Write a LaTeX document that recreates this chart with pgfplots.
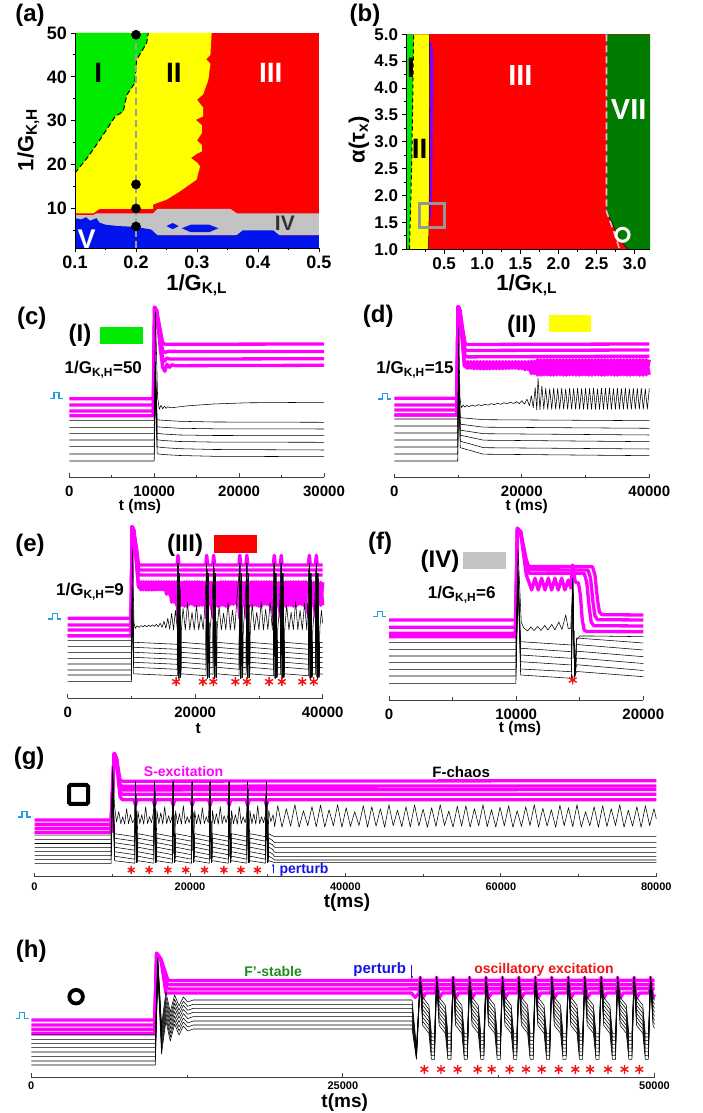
\documentclass[border=0pt]{standalone}
\usepackage{fontspec}
\setmainfont{Liberation Sans}
\usepackage{pgfplots}
\pgfplotsset{compat=1.18}
\usepackage{pgfplotstable}
\usetikzlibrary{arrows.meta}

\definecolor{mag}{RGB}{255,0,255}
\definecolor{cRed}{RGB}{255,0,0}
\definecolor{cYel}{RGB}{255,255,0}
\definecolor{cGrn}{RGB}{0,235,0}
\definecolor{cGry}{RGB}{195,195,195}
\definecolor{cBlu}{RGB}{0,20,235}
\definecolor{cDkG}{RGB}{0,125,0}
\definecolor{cPur}{RGB}{125,0,255}
\definecolor{cPulse}{RGB}{30,160,230}
\definecolor{cPert}{RGB}{20,20,230}
\definecolor{cStar}{RGB}{240,20,20}
\definecolor{cFst}{RGB}{30,140,30}
\definecolor{cBox}{RGB}{150,150,150}

\newcommand{\fs}[1]{\fontsize{#1}{#1}\selectfont\bfseries}
\newcommand{\pulse}[2]{\draw[cPulse, line width=1.3pt] (#1,#2) -- ++(4,0) -- ++(0,5.5) -- ++(5,0) -- ++(0,-5.5) -- ++(4,0);}

\pgfplotsset{
  heat/.style={scale only axis, anchor=south west, width=244pt, height=215pt,
    axis x line*=bottom, axis y line*=left,
    axis line style={-, line width=0.9pt, black},
    tick align=outside, major tick length=4.5pt, minor tick length=2.5pt,
    tick style={black, line width=0.9pt}, minor tick style={black, line width=0.9pt},
    tick label style={font=\fs{18}},
    /pgf/number format/assume math mode=true,
    axis on top},
  trace/.style={scale only axis, anchor=south west, ymin=0, clip=false,
    axis y line=none, axis x line*=bottom,
    axis line style={-, line width=0.9pt, black!75},
    tick align=inside, major tick length=4pt, minor tick length=2.5pt,
    tick style={black!75, line width=0.9pt}, minor tick style={black!75, line width=0.9pt},
    scaled x ticks=false,
    xticklabel style={/pgf/number format/.cd, fixed, 1000 sep={}},
    /pgf/number format/assume math mode=true,
    xticklabel shift=5pt,
    tick label style={font=\fs{15}}},
  magline/.style={color=mag, line width=3.3pt, line join=round},
  blk/.style={black, line width=0.55pt, line join=round},
  star/.style={only marks, mark=asterisk, color=cStar, mark size=4.5pt, line width=1.4pt},
}

% ---------- panel (c): lower traces ----------
\pgfplotstableread{
t b2 b3 b4 b5 b6 b7
0 50 44 37.3 30.6 23.3 16.3
10000 50 44 37.3 30.6 23.3 16.3
10150 115 110 105 100 95 90
10350 57.5 50.5 44 37.5 30.5 23.5
11000 57 50 43.3 36.8 29.7 22.8
13000 56 49 42.3 35.8 28.6 21.8
17000 55.3 48.5 41.8 35.2 27.8 21
30000 55 48.3 41.6 35 27.3 20.6
}\tabC

% ---------- panel (d) ----------
\pgfplotstableread{
t b2 b3 b4 b5 b6 b7
0 51.7 44.7 37.7 30.7 23.7 16.7
9950 51.7 44.7 37.7 30.7 23.7 16.7
10100 112 108 104 100 96 92
10350 60 53.5 47.5 42.5 36.5 30
14000 58 50.5 44 37.5 30 23.5
40000 57 49.4 42.7 36 28.7 22
}\tabD

\pgfplotstableread{
t y
0 58.7
9950 58.7
10100 150
10300 80
10500 70
10800 72.5
11100 70.5
11400 72.3
11700 71
12200 72.5
12700 71.5
13200 73
13700 72
14200 73.5
14700 72.5
15200 74
15700 73
16200 74.5
16700 73.3
17200 75
17700 73.8
18200 75.5
18700 74.2
19200 76
19600 74
20000 77
20400 73.5
20800 78.5
21200 72
21500 82
21800 70
22100 90
22350 67.7
22550 99.4
22850 68
23150 92
23450 68.4
23750 89.4
24062 68.4
24375 89
24687 68.4
25000 89.6
25312 68.4
25625 89.2
25937 68.4
26250 89.4
26562 68.4
26875 88.8
27187 68.4
27500 89.5
27812 68.4
28125 89.1
28437 68.4
28750 89.6
29062 68.4
29375 89
29687 68.4
30000 89.4
30312 68.4
30625 89.2
30937 68.4
31250 89.6
31562 68.4
31875 88.9
32187 68.4
32500 89.4
32812 68.4
33125 89.2
33437 68.4
33750 89.6
34062 68.4
34375 89
34687 68.4
35000 89.4
35312 68.4
35625 89.1
35937 68.4
36250 89.6
36562 68.4
36875 89
37187 68.4
37500 89.4
37812 68.4
38125 89.2
38437 68.4
38750 89.6
39062 68.4
39375 89
39687 68.4
40000 89.2
}\tabDa

\pgfplotstableread{
t y z
0 62.7 62.7
9800 62.7 62.7
10000 171 171
10300 167 167
10700 135 135
11000 112 112
11500 116 109.5
12000 109.5 116
12500 116 109
13000 109 116
13500 116 108.8
14000 108.8 116
14500 116 108.8
15000 108.8 116
15500 116 109
16000 109 116
16500 116 109
17000 109 116
17500 116 109.2
18000 109.2 116
18500 116 109.5
19000 109.5 116
19500 116 109
20000 109 116
20500 116 108
21000 108 116
21500 116.5 104
22000 104 116.5
22500 118 102.5
23000 102.5 118
23500 118 102.8
24000 102.8 118
24500 118 102.5
25000 102.5 118
25500 118 102.8
26000 102.8 118
26500 118 102.5
27000 102.5 118
27500 118 102.8
28000 102.8 118
28500 118 102.5
29000 102.5 118
29500 118 102.8
30000 102.8 118
30500 118 102.5
31000 102.5 118
31500 118 102.8
32000 102.8 118
32500 118 102.5
33000 102.5 118
33500 118 102.8
34000 102.8 118
34500 118 102.5
35000 102.5 118
35500 118 102.8
36000 102.8 118
36500 118 102.5
37000 102.5 118
37500 118 102.8
38000 102.8 118
38500 118 102.5
39000 102.5 118
39500 118 102.8
40000 103 118
}\tabDm

% ---------- panel (e) ----------
\pgfplotstableread{
t b2 b3 b4 b5 b6 b7 b8
0 51.6 45.6 40 34.3 28.3 23.3 16.6
10000 51.6 45.6 40 34.3 28.3 23.3 16.6
10150 110 108 106 104 102 100 98
10350 56 51 46 41 36 31 24.5
17200 54 49 44 39 34 29 22.5
17300 135 135 135 135 135 135 135
17450 20 20 20 20 20 20 20
17550 125 125 125 125 125 125 125
17700 21 21 21 21 21 21 21
17800 56 51 46 41 36 31 24.5
21700 54 49 44 39 34 29 22.5
21800 135 135 135 135 135 135 135
21950 20 20 20 20 20 20 20
22050 125 125 125 125 125 125 125
22200 21 21 21 21 21 21 21
22300 56 51 46 41 36 31 24.5
22800 55.5 50.5 45.5 40.5 35.5 30.5 24
22900 135 135 135 135 135 135 135
23050 20 20 20 20 20 20 20
23150 125 125 125 125 125 125 125
23300 21 21 21 21 21 21 21
23400 56 51 46 41 36 31 24.5
26900 54 49 44 39 34 29 22.5
27000 135 135 135 135 135 135 135
27150 20 20 20 20 20 20 20
27250 125 125 125 125 125 125 125
27400 21 21 21 21 21 21 21
27500 56 51 46 41 36 31 24.5
28000 55.5 50.5 45.5 40.5 35.5 30.5 24
28100 135 135 135 135 135 135 135
28250 20 20 20 20 20 20 20
28350 125 125 125 125 125 125 125
28500 21 21 21 21 21 21 21
28600 56 51 46 41 36 31 24.5
32300 54 49 44 39 34 29 22.5
32400 135 135 135 135 135 135 135
32550 20 20 20 20 20 20 20
32650 125 125 125 125 125 125 125
32800 21 21 21 21 21 21 21
32900 56 51 46 41 36 31 24.5
33400 55.5 50.5 45.5 40.5 35.5 30.5 24
33500 135 135 135 135 135 135 135
33650 20 20 20 20 20 20 20
33750 125 125 125 125 125 125 125
33900 21 21 21 21 21 21 21
34000 56 51 46 41 36 31 24.5
37800 54 49 44 39 34 29 22.5
37900 135 135 135 135 135 135 135
38050 20 20 20 20 20 20 20
38150 125 125 125 125 125 125 125
38300 21 21 21 21 21 21 21
38400 56 51 46 41 36 31 24.5
38900 55.5 50.5 45.5 40.5 35.5 30.5 24
39000 135 135 135 135 135 135 135
39150 20 20 20 20 20 20 20
39250 125 125 125 125 125 125 125
39400 21 21 21 21 21 21 21
39500 56 51 46 41 36 31 24.5
40000 55.5 50.5 45.5 40.5 35.5 30.5 24
}\tabE

\pgfplotstableread{
t y
0 57.6
10000 57.6
10150 150
10400 75
10600 70
10900 72.5
11200 71
11500 72.8
11800 71.3
12100 73
12400 71.5
12700 73.2
13000 71.7
13300 73.5
13600 71.8
13900 74
14200 71.5
14500 75
14800 71
15100 77
15400 70
15700 80
16000 69
16300 85
16600 68.5
16900 88
17200 68.5
17300 135
17450 22
17550 125
17700 22
17850 70
18100 90
18450 68.3
18800 96
19150 68.3
19500 86
19850 68.5
20200 93
20550 68.3
20900 84
21250 68.5
21550 95
21800 135
21950 22
22050 125
22200 22
22350 70
22600 88
22900 135
23050 22
23150 125
23300 22
23450 70
23750 92
24100 68.3
24450 85
24800 68.5
25150 96
25500 68.3
25850 88
26200 68.3
26550 100
27000 135
27150 22
27250 125
27400 22
27550 70
27800 90
28100 135
28250 22
28350 125
28500 22
28650 70
28950 94
29300 68.3
29650 86
30000 68.5
30350 97
30700 68.3
31050 89
31400 68.5
31750 96
32100 68.3
32400 135
32550 22
32650 125
32800 22
32950 70
33200 88
33500 135
33650 22
33750 125
33900 22
34050 70
34350 93
34700 68.3
35050 86
35400 68.5
35750 97
36100 68.3
36450 88
36800 68.5
37150 95
37500 68.3
37900 135
38050 22
38150 125
38300 22
38450 70
38700 90
39000 135
39150 22
39250 125
39400 22
39550 70
39800 88
40000 75
}\tabEa

\pgfplotstableread{
t y z
0 62.6 62.6
9950 62.6 62.6
10100 171.6 171.6
10350 168 168
10800 135 135
11100 112 112
11500 116.5 108.5
11900 108.5 116.5
12300 116.5 108.3
12700 108.3 116.5
13100 116.5 108.3
13500 108.3 116.5
13900 116.5 108.5
14300 108.5 116.5
14700 116.5 108.5
15100 108.5 116.5
15500 116.5 104
15900 104 116.5
16300 116.5 96
16700 96 116.5
17100 116.5 93
17300 80 100
17600 116 93
17900 93 116
18300 116.5 92
18700 92 116.5
19100 116.5 94
19500 94 116.5
19900 116.5 92.5
20300 92.5 116.5
20700 116.5 93
21100 93 116.5
21500 116 93
21800 80 100
22200 116 94
22500 94 116
22900 80 100
23200 116 92
23600 92 116
24000 116.5 93
24400 93 116.5
24800 116.5 92
25200 92 116.5
25600 116.5 94
26000 94 116.5
26400 116.5 95
26800 95 116.5
27000 80 100
27400 116 93
27800 93 116
28100 80 100
28400 116 92.5
28800 92.5 116.5
29200 116.5 93
29600 93 116.5
30000 116.5 92
30400 92 116.5
30800 116.5 94
31200 94 116.5
31600 116.5 93
32000 93 116.5
32400 80 100
32700 116 93
33100 93 116
33500 80 100
33800 116 92
34200 92 116.5
34600 116.5 93
35000 93 116.5
35400 116.5 92
35800 92 116.5
36200 116.5 94
36600 94 116.5
37000 116.5 93
37400 93 116.5
37900 80 100
38200 116 93
38600 93 116
39000 80 100
39300 116 93
39700 93 116
40000 116 93
}\tabEm

% ---------- panel (f) ----------
\pgfplotstableread{
t b2 b3 b4 b5 b6 b7
0 50.7 44 37.3 30.7 24 16.7
9980 50.7 44 37.3 30.7 24 16.7
10150 130 128 126 124 122 120
10350 58.3 51.7 45 38.3 31 25
14350 55 48.3 41.7 35 28.3 21.7
14450 118 118 118 118 118 118
14600 23 23 23 23 23 23
14750 62 55.5 48.8 42 35.3 28.5
20000 57 50 43.3 36.5 29.5 23.3
}\tabF

% ---------- panel (g) ----------
\pgfplotstableread{
t b2 b3 b4 b5 b6 b7 b8
0 37.3 33.2 29 25 21 17 13
9850 37.3 33.2 29 25 21 17 13
10050 100 98 96 94 92 90 88
10300 43 38.5 34 29.5 25 20.5 16
12900 40 35.5 31 26.5 22 17.5 13.5
13000 95 95 95 95 95 95 95
13150 14 14 14 14 14 14 14
13300 43 38.5 34 29.5 25 20.5 16
15350 40 35.5 31 26.5 22 17.5 13.5
15450 95 95 95 95 95 95 95
15600 14 14 14 14 14 14 14
15750 43 38.5 34 29.5 25 20.5 16
17750 40 35.5 31 26.5 22 17.5 13.5
17850 95 95 95 95 95 95 95
18000 14 14 14 14 14 14 14
18150 43 38.5 34 29.5 25 20.5 16
20200 40 35.5 31 26.5 22 17.5 13.5
20300 95 95 95 95 95 95 95
20450 14 14 14 14 14 14 14
20600 43 38.5 34 29.5 25 20.5 16
22500 40 35.5 31 26.5 22 17.5 13.5
22600 95 95 95 95 95 95 95
22750 14 14 14 14 14 14 14
22900 43 38.5 34 29.5 25 20.5 16
24950 40 35.5 31 26.5 22 17.5 13.5
25050 95 95 95 95 95 95 95
25200 14 14 14 14 14 14 14
25350 43 38.5 34 29.5 25 20.5 16
27320 40 35.5 31 26.5 22 17.5 13.5
27420 95 95 95 95 95 95 95
27570 14 14 14 14 14 14 14
27720 43 38.5 34 29.5 25 20.5 16
29740 40 35.5 31 26.5 22 17.5 13.5
29840 95 95 95 95 95 95 95
29990 14 14 14 14 14 14 14
30140 43 38.5 34 29.5 25 20.5 16
30600 41 36.5 32 27.5 23 18.5 15
30900 40 34 29.4 24.4 20 16.7 14
80000 40 34 29.4 24.4 20 16.7 14
}\tabG

\pgfplotstableread{
t y
0 41.5
9850 41.5
10050 110
10300 70
10550 55
10850 65
11100 53
11350 60
11600 52.5
11850 68
12100 53
12350 62
12600 54
12900 58
13000 95
13150 14
13300 66
13550 53
13800 62
14050 52.5
14300 70
14550 53
14800 60
15050 54
15300 64
15450 95
15600 14
15750 66
16000 53
16250 64
16500 52.5
16750 70
17000 53
17250 61
17500 54
17750 62
17850 95
18000 14
18150 66
18400 53
18650 63
18900 52.5
19150 71
19400 53
19650 60
19900 54
20150 62
20300 95
20450 14
20600 66
20850 53
21100 62
21350 52.5
21600 69
21850 53
22100 60
22350 54
22600 95
22750 14
22900 66
23150 53
23400 63
23650 52.5
23900 70
24150 53
24400 61
24650 54
24900 62
25050 95
25200 14
25350 66
25600 53
25850 62
26100 52.5
26350 70
26600 53
26850 60
27100 54
27300 61
27420 95
27570 14
27720 66
27970 53
28220 63
28470 52.5
28720 71
28970 53
29220 60
29470 54
29720 62
29840 95
29990 14
30140 66
30400 55
30700 62
30900 50
31300 71
31850 49.5
32400 68
32950 50.5
33500 72
34050 49.4
34600 66
35150 51
35700 70
36250 50
36800 71.5
37350 49.6
37900 67
38450 50.8
39000 72
39550 49.4
40100 69
40650 50.2
41200 65
41750 51.2
42300 71
42850 49.5
43400 70
43950 50.5
44500 68
45050 49.4
45600 72
46150 51
46700 66.5
47250 50
47800 70
48350 49.6
48900 71.7
49450 50.8
50000 67.5
50550 49.4
51100 69
51650 50.2
52200 72
52750 51.2
53300 65.5
53850 49.5
54400 70.5
54950 50.5
55500 71
56050 49.4
56600 68
57150 51
57700 72
58250 50
58800 67
59350 49.6
59900 69.5
60450 50.8
61000 71
61550 49.4
62100 66
62650 50.2
63200 70
63750 51.2
64300 72
64850 49.5
65400 68.5
65950 50.5
66500 67
67050 49.4
67600 71.5
68150 51
68700 69
69250 50
69800 72
70350 49.6
70900 65
71450 50.8
72000 70
72550 49.4
73100 71
73650 50.2
74200 68
74750 51.2
75300 72
75850 49.5
76400 66.5
76950 50.5
77500 70
78050 49.4
78600 71
79150 51
79700 68
80000 58
}\tabGa

% ---------- panel (h) ----------
\pgfplotstableread{
t j1 j2 j3 j4 j5 j6 j7 j8
0 42.3 38 34 29.7 25.3 20.7 16.3 12.3
9950 42.3 38 34 29.7 25.3 20.7 16.3 12.3
10150 120 118 116 114 112 110 108 106
10450 52.3 48 44 40 35.7 31.3 27.3 23.3
10800 85.3 81 77 73 68.7 64.3 60.3 56.3
11150 65.3 61 57 53 48.7 44.3 40.3 36.3
11500 82.3 78 74 70 65.7 61.3 57.3 53.3
11850 71.3 67 63 59 54.7 50.3 46.3 42.3
12200 80.3 76 72 68 63.7 59.3 55.3 51.3
12550 75.3 71 67 63 58.7 54.3 50.3 46.3
13000 77.3 73 69 65 60.7 56.3 52.3 48.3
30550 77.3 73 69 65 60.7 56.3 52.3 48.3
30900 30 28 26 24 22 20 19 18
31200 101 100 99 98 97 96 95 94
31400 80 76 72 68 64 60 56 52
31900 72 68 64 60 56 52 48 44
32100 44 40.3 36.6 32.9 29.1 25.4 21.7 18
32350 44 40.3 36.6 32.9 29.1 25.4 21.7 18
32520 101 100 99 98 97 96 95 94
32720 80 76 72 68 64 60 56 52
33220 72 68 64 60 56 52 48 44
33420 44 40.3 36.6 32.9 29.1 25.4 21.7 18
33670 44 40.3 36.6 32.9 29.1 25.4 21.7 18
33840 101 100 99 98 97 96 95 94
34040 80 76 72 68 64 60 56 52
34540 72 68 64 60 56 52 48 44
34740 44 40.3 36.6 32.9 29.1 25.4 21.7 18
34990 44 40.3 36.6 32.9 29.1 25.4 21.7 18
35160 101 100 99 98 97 96 95 94
35360 80 76 72 68 64 60 56 52
35860 72 68 64 60 56 52 48 44
36060 44 40.3 36.6 32.9 29.1 25.4 21.7 18
36310 44 40.3 36.6 32.9 29.1 25.4 21.7 18
36480 101 100 99 98 97 96 95 94
36680 80 76 72 68 64 60 56 52
37180 72 68 64 60 56 52 48 44
37380 44 40.3 36.6 32.9 29.1 25.4 21.7 18
37630 44 40.3 36.6 32.9 29.1 25.4 21.7 18
37800 101 100 99 98 97 96 95 94
38000 80 76 72 68 64 60 56 52
38500 72 68 64 60 56 52 48 44
38700 44 40.3 36.6 32.9 29.1 25.4 21.7 18
38950 44 40.3 36.6 32.9 29.1 25.4 21.7 18
39120 101 100 99 98 97 96 95 94
39320 80 76 72 68 64 60 56 52
39820 72 68 64 60 56 52 48 44
40020 44 40.3 36.6 32.9 29.1 25.4 21.7 18
40270 44 40.3 36.6 32.9 29.1 25.4 21.7 18
40440 101 100 99 98 97 96 95 94
40640 80 76 72 68 64 60 56 52
41140 72 68 64 60 56 52 48 44
41340 44 40.3 36.6 32.9 29.1 25.4 21.7 18
41590 44 40.3 36.6 32.9 29.1 25.4 21.7 18
41760 101 100 99 98 97 96 95 94
41960 80 76 72 68 64 60 56 52
42460 72 68 64 60 56 52 48 44
42660 44 40.3 36.6 32.9 29.1 25.4 21.7 18
42910 44 40.3 36.6 32.9 29.1 25.4 21.7 18
43080 101 100 99 98 97 96 95 94
43280 80 76 72 68 64 60 56 52
43780 72 68 64 60 56 52 48 44
43980 44 40.3 36.6 32.9 29.1 25.4 21.7 18
44230 44 40.3 36.6 32.9 29.1 25.4 21.7 18
44400 101 100 99 98 97 96 95 94
44600 80 76 72 68 64 60 56 52
45100 72 68 64 60 56 52 48 44
45300 44 40.3 36.6 32.9 29.1 25.4 21.7 18
45550 44 40.3 36.6 32.9 29.1 25.4 21.7 18
45720 101 100 99 98 97 96 95 94
45920 80 76 72 68 64 60 56 52
46420 72 68 64 60 56 52 48 44
46620 44 40.3 36.6 32.9 29.1 25.4 21.7 18
46870 44 40.3 36.6 32.9 29.1 25.4 21.7 18
47040 101 100 99 98 97 96 95 94
47240 80 76 72 68 64 60 56 52
47740 72 68 64 60 56 52 48 44
47940 44 40.3 36.6 32.9 29.1 25.4 21.7 18
48190 44 40.3 36.6 32.9 29.1 25.4 21.7 18
48360 101 100 99 98 97 96 95 94
48560 80 76 72 68 64 60 56 52
49060 72 68 64 60 56 52 48 44
49260 44 40.3 36.6 32.9 29.1 25.4 21.7 18
49510 44 40.3 36.6 32.9 29.1 25.4 21.7 18
49680 101 100 99 98 97 96 95 94
49880 80 76 72 68 64 60 56 52
50000 77 73 69 65 61 57 53 49
}\tabH

\pgfplotstableread{
t y
0 44
9900 44
10060 124
10400 118
10800 84.3
30500 84.3
30800 80
31120 84.3
31200 100
31380 79
31650 84.3
32440 84.3
32520 100
32700 79
32970 84.3
33760 84.3
33840 100
34020 79
34290 84.3
35080 84.3
35160 100
35340 79
35610 84.3
36400 84.3
36480 100
36660 79
36930 84.3
37720 84.3
37800 100
37980 79
38250 84.3
39040 84.3
39120 100
39300 79
39570 84.3
40360 84.3
40440 100
40620 79
40890 84.3
41680 84.3
41760 100
41940 79
42210 84.3
43000 84.3
43080 100
43260 79
43530 84.3
44320 84.3
44400 100
44580 79
44850 84.3
45640 84.3
45720 100
45900 79
46170 84.3
46960 84.3
47040 100
47220 79
47490 84.3
48280 84.3
48360 100
48540 79
48810 84.3
49600 84.3
49680 100
49860 79
50000 83
}\tabHm

\begin{document}
\begin{tikzpicture}[x=1pt,y=1pt]
\path (0,0) rectangle (702,1113);

% ================= (a) phase diagram =================
\begin{axis}[heat, at={(75pt,865pt)}, xmin=0.1, xmax=0.5, ymin=1, ymax=50,
  xtick={0.1,0.2,0.3,0.4,0.5}, minor xtick={0.15,0.25,0.35,0.45},
  ytick={10,20,30,40,50}, minor ytick={5,15,25,35,45},
  xticklabel style={/pgf/number format/.cd, fixed, fixed zerofill, precision=1}]
\addplot[draw=none, fill=cRed] coordinates {(0.1,1) (0.5,1) (0.5,50) (0.1,50)} -- cycle;
\addplot[draw=none, fill=cYel] coordinates {(0.1,8.9) (0.13,8.9) (0.14,9.9) (0.228,9.9) (0.228,10.9) (0.25,12) (0.272,13.9) (0.2995,16.6) (0.305,19.6) (0.3,20.5) (0.29,21.5) (0.3,22.5) (0.308,23) (0.308,24.5) (0.3,25.5) (0.308,27.2) (0.308,29) (0.298,30.2) (0.31,31) (0.31,33) (0.3,34.8) (0.31,36) (0.3186,39.3) (0.322,43) (0.315,44) (0.322,45) (0.324,50) (0.1,50)} -- cycle;
\addplot[draw=none, fill=cGrn] coordinates {(0.1,18.1) (0.122,21.9) (0.141,25.7) (0.166,31) (0.179,32.1) (0.185,35.9) (0.198,38.6) (0.201,43.9) (0.2175,47.7) (0.22,50) (0.1,50)} -- cycle;
\addplot[draw=none, fill=cGry] coordinates {(0.1,3.9) (0.5,3.9) (0.5,8.9) (0.365,8.9) (0.355,9.9) (0.235,9.9) (0.228,8.9) (0.135,8.9) (0.13,8.5) (0.1,8.5)} -- cycle;
\addplot[draw=none, fill=cBlu] coordinates {(0.1,1) (0.5,1) (0.5,3.9) (0.435,3.9) (0.425,5) (0.375,5) (0.365,3.9) (0.235,3.9) (0.225,5.2) (0.2,5.8) (0.17,6) (0.15,6.3) (0.14,6.8) (0.135,7.8) (0.125,7.2) (0.118,8) (0.11,7.5) (0.1,7.8)} -- cycle;
\addplot[draw=none, fill=cBlu] coordinates {(0.25,6) (0.26,6.7) (0.27,6) (0.26,5.3)} -- cycle;
\addplot[draw=none, fill=cBlu] coordinates {(0.275,5.5) (0.29,6.3) (0.32,6.3) (0.335,5.5) (0.32,4.6) (0.29,4.6)} -- cycle;
\addplot[black, line width=1pt, dash pattern=on 5pt off 3pt] coordinates {(0.1,18.1) (0.122,21.9) (0.141,25.7) (0.166,31) (0.179,32.1) (0.185,35.9) (0.198,38.6) (0.201,43.9) (0.2175,47.7) (0.22,50)};
\addplot[black!38, line width=2pt, dash pattern=on 7pt off 4pt] coordinates {(0.2,1) (0.2,50)};
\addplot[only marks, mark=*, mark size=4.6pt, black] coordinates {(0.2,49.6) (0.2,15.5) (0.2,10) (0.2,5.9)};
\node[font=\fs{28}] at (axis cs:0.138,40.8) {I};
\node[font=\fs{28}] at (axis cs:0.262,40.8) {II};
\node[font=\fs{28}, white] at (axis cs:0.421,40.8) {III};
\node[font=\fs{21}, black!80] at (axis cs:0.444,6.6) {IV};
\node[font=\fs{27}, white] at (axis cs:0.119,3.1) {V};
\end{axis}

% ================= (b) phase diagram =================
\begin{axis}[heat, at={(406pt,863.7pt)}, xmin=0, xmax=3.2, ymin=1, ymax=5,
  xtick={0.5,1,1.5,2,2.5,3}, minor xtick={0.25,0.75,1.25,1.75,2.25,2.75},
  ytick={1,1.5,2,2.5,3,3.5,4,4.5,5}, minor ytick={1.25,1.75,2.25,2.75,3.25,3.75,4.25,4.75},
  xticklabel style={/pgf/number format/.cd, fixed, fixed zerofill, precision=1},
  yticklabel style={/pgf/number format/.cd, fixed, fixed zerofill, precision=1},
  tick label style={font=\fs{17}}]
\addplot[draw=none, fill=cRed] coordinates {(0,1) (3.2,1) (3.2,5) (0,5)} -- cycle;
\addplot[draw=none, fill=cGrn] coordinates {(0,1) (0.045,1) (0.065,2) (0.08,3) (0.09,4) (0.1,5) (0,5)} -- cycle;
\addplot[draw=none, fill=cYel] coordinates {(0.045,1) (0.29,1) (0.3,1.3) (0.305,2) (0.305,3) (0.31,4) (0.306,5) (0.1,5) (0.09,4) (0.08,3) (0.065,2)} -- cycle;
\addplot[draw=none, fill=cPur] coordinates {(0.306,4.85) (0.34,4.85) (0.36,4.6) (0.36,4) (0.35,3) (0.345,2.2) (0.33,1.6) (0.305,1.5) (0.305,3) (0.31,4)} -- cycle;
\addplot[black, line width=0.5pt] coordinates {(0.29,1) (0.3,1.3) (0.305,2) (0.305,3) (0.31,4) (0.306,5)};
\addplot[draw=none, fill=cDkG] coordinates {(2.63,5) (3.2,5) (3.2,1) (2.91,1) (2.85,1.1) (2.76,1.3) (2.7,1.5) (2.66,1.62) (2.63,1.7)} -- cycle;
\addplot[black, line width=0.5pt] coordinates {(2.63,1.7) (2.66,1.62) (2.7,1.5) (2.76,1.3) (2.85,1.1) (2.91,1)};
\addplot[black, line width=1pt, dash pattern=on 4pt off 3pt] coordinates {(0.045,1) (0.065,2) (0.08,3) (0.09,4) (0.1,5)};
\addplot[black!20, line width=1.6pt, dash pattern=on 7pt off 4pt] coordinates {(2.63,5) (2.63,1.7) (2.72,1.35) (2.8,1)};
\draw[cBox, line width=3pt] (axis cs:0.175,1.41) rectangle (axis cs:0.51,1.86);
\draw[white, line width=3pt] (axis cs:2.84,1.27) circle[radius=6.5pt];
\node[font=\fs{28}] at (axis cs:0.066,4.38) {I};
\node[font=\fs{28}] at (axis cs:0.18,2.87) {II};
\node[font=\fs{29}, white] at (axis cs:1.5,4.24) {III};
\node[font=\fs{29}, white] at (axis cs:2.92,3.6) {VII};
\end{axis}

% ================= (c) =================
\begin{axis}[trace, at={(69.3pt,635.7pt)}, width=254.7pt, height=172pt, ymax=172,
  xmin=0, xmax=30000, xtick={0,10000,20000,30000}, minor xtick={5000,15000,25000}]
\addplot[magline] coordinates {(0,78.6) (9900,78.6) (10050,170) (10300,166) (10700,148) (11000,134.5) (11300,133) (30000,133.3)};
\addplot[magline] coordinates {(0,72.3) (9900,72.3) (10050,170) (10300,166) (10700,142) (11000,126.5) (11300,124.8) (11600,125.9) (30000,125.7)};
\addplot[magline] coordinates {(0,66.3) (9900,66.3) (10050,170) (10300,166) (10700,136) (11000,118.5) (11200,116) (11500,119.3) (11800,118.2) (30000,118.6)};
\addplot[magline] coordinates {(0,61.5) (9900,61.5) (10050,170) (10300,166) (10700,130) (11000,110) (11250,106) (11500,113) (11800,110) (12100,112.5) (12500,111.6) (30000,112)};
\addplot[blk] coordinates {(0,56.6) (10000,56.6) (10150,165) (10400,80) (10600,68) (10800,72) (11000,68.5) (11200,71) (11400,69) (11600,70.5) (11900,69.5) (12500,70) (14000,71.5) (17000,73.3) (21000,74.5) (30000,75)};
\pgfplotsinvokeforeach{b2,b3,b4,b5,b6,b7}{\addplot[blk] table[x=t,y=#1] \tabC;}
\end{axis}

% ================= (d) =================
\begin{axis}[trace, at={(394.3pt,635.3pt)}, width=255pt, height=172pt, ymax=172,
  xmin=0, xmax=40000, xtick={0,20000,40000}, minor xtick={10000,30000}]
\addplot[magline] coordinates {(0,79.4) (9800,79.4) (10000,171) (10300,167) (10700,150) (11100,134.5) (11400,133.2) (40000,133.7)};
\addplot[magline] coordinates {(0,72.7) (9800,72.7) (10000,171) (10300,167) (10700,145) (11100,128) (11400,127.2) (40000,127.7)};
\addplot[magline] coordinates {(0,67.7) (9800,67.7) (10000,171) (10300,167) (10700,140) (11100,122) (11400,120.8) (40000,121.5)};
\addplot[magline] table[x=t,y=y] \tabDm;
\addplot[magline] table[x=t,y=z] \tabDm;
\addplot[blk] table[x=t,y=y] \tabDa;
\pgfplotsinvokeforeach{b2,b3,b4,b5,b6,b7}{\addplot[blk] table[x=t,y=#1] \tabD;}
\end{axis}

% ================= (e) =================
\begin{axis}[trace, at={(67.7pt,414.7pt)}, width=255pt, height=172pt, ymax=172,
  xmin=0, xmax=40000, xtick={0,20000,40000}, minor xtick={10000,30000}]
\addplot[magline] coordinates {(0,80) (9950,80) (10100,171.6) (10350,168) (10800,150) (11100,134) (11400,133.3) (17150,133.3) (17300,143) (17450,133.3) (21650,133.3) (21800,143) (21950,133.3) (22750,133.3) (22900,143) (23050,133.3) (26850,133.3) (27000,143) (27150,133.3) (27950,133.3) (28100,143) (28250,133.3) (32250,133.3) (32400,143) (32550,133.3) (33350,133.3) (33500,143) (33650,133.3) (37750,133.3) (37900,143) (38050,133.3) (38850,133.3) (39000,143) (39150,133.3) (40000,133.3)};
\addplot[magline] coordinates {(0,73.3) (9950,73.3) (10100,171.6) (10350,168) (10800,145) (11100,129) (11400,128.3) (40000,128.3)};
\addplot[magline] coordinates {(0,68.3) (9950,68.3) (10100,171.6) (10350,168) (10800,140) (11100,123.5) (11400,123.3) (40000,123.3)};
\addplot[magline] table[x=t,y=y] \tabEm;
\addplot[magline] table[x=t,y=z] \tabEm;
\addplot[blk] table[x=t,y=y] \tabEa;
\pgfplotsinvokeforeach{b2,b3,b4,b5,b6,b7,b8}{\addplot[blk] table[x=t,y=#1] \tabE;}
\addplot[star] coordinates {(17000,16.6) (21200,16.6) (22850,16.6) (26300,16.6) (28100,16.6) (31600,16.6) (33600,16.6) (36800,16.6) (38600,16.6)};
\end{axis}

% ================= (f) =================
\begin{axis}[trace, at={(389pt,413pt)}, width=254.3pt, height=172pt, ymax=172,
  xmin=0, xmax=20000, xtick={0,10000,20000}, minor xtick={5000,15000}]
\addplot[magline] coordinates {(0,80) (9950,80) (10100,171.7) (10350,168) (10800,140) (11000,133.5) (16000,133.3) (16200,125) (16400,100) (16550,88) (16750,85.3) (20000,85)};
\addplot[magline] coordinates {(0,72.7) (9950,72.7) (10100,171.7) (10350,168) (10800,136) (11000,130.2) (15650,130) (15850,122) (16050,97) (16200,84) (16400,80.3) (20000,80)};
\addplot[magline] coordinates {(0,66.7) (9950,66.7) (10100,171.7) (10350,168) (10800,132) (11000,126.8) (15350,126.7) (15550,118) (15750,92) (15900,78) (16100,74.3) (20000,74)};
\addplot[magline] coordinates {(0,63.3) (9950,63.3) (10100,171.7) (10350,168) (10800,125) (11000,118) (11220,110) (11480,121.7) (11740,110) (12000,121.7) (12270,110) (12530,121.7) (12790,110) (13050,121.7) (13310,110) (13580,121.7) (13840,110) (14100,120) (14300,112) (14450,135) (14650,118) (14900,117) (15050,105) (15200,80) (15350,70) (15550,68.5) (20000,68.3)};
\addplot[blk] coordinates {(0,57.3) (9980,57.3) (10150,150) (10400,78) (10600,72) (10900,69) (11150,73) (11400,69.5) (11700,73.5) (11950,69.5) (12250,74.5) (12500,70) (12800,75.5) (13050,70) (13350,78) (13600,70.5) (13900,85) (14100,71) (14300,72) (14450,122) (14600,24) (14750,60) (15000,64) (16000,64) (20000,63.3)};
\pgfplotsinvokeforeach{b2,b3,b4,b5,b6,b7}{\addplot[blk] table[x=t,y=#1] \tabF;}
\addplot[star] coordinates {(14450,20)};
\end{axis}

% ================= (g) =================
\begin{axis}[trace, at={(34.5pt,236.3pt)}, width=621.8pt, height=124pt, ymax=124,
  xmin=0, xmax=80000, xtick={0,20000,40000,60000,80000}, minor xtick={10000,30000,50000,70000},
  tick label style={font=\fs{11}}, xticklabel shift=3pt]
\addplot[magline] coordinates {(0,56.7) (9850,56.7) (10250,123.3) (10550,118) (11000,97) (11300,95.5) (80000,96)};
\addplot[magline] coordinates {(0,52.5) (9850,52.5) (10250,123.3) (10550,118) (11000,92) (11300,90.5) (80000,90.7)};
\addplot[magline] coordinates {(0,48.3) (9850,48.3) (10250,123.3) (10550,118) (11000,88) (11300,86.8) (80000,87.2)};
\addplot[magline] coordinates {(0,44.2) (9850,44.2) (10250,123.3) (10550,118) (11000,84) (11300,82.5) (80000,82.5)};
\addplot[magline] coordinates {(0,44.2) (9850,44.2) (10250,123.3) (10550,118) (11000,80) (11300,77) (12800,77) (13000,71.5) (13200,77) (15250,77) (15450,71.5) (15650,77) (17650,77) (17850,71.5) (18050,77) (20100,77) (20300,71.5) (20500,77) (22400,77) (22600,71.5) (22800,77) (24850,77) (25050,71.5) (25250,77) (27220,77) (27420,71.5) (27620,77) (29640,77) (29840,71.5) (30040,77) (80000,77)};
\addplot[blk] table[x=t,y=y] \tabGa;
\pgfplotsinvokeforeach{b2,b3,b4,b5,b6,b7,b8}{\addplot[blk] table[x=t,y=#1] \tabG;}
\addplot[star, mark size=4pt] coordinates {(12440,6.7) (14740,6.7) (17160,6.7) (19460,6.7) (21880,6.7) (24370,6.7) (26560,6.7) (28680,6.7)};
\end{axis}

% ================= (h) =================
\begin{axis}[trace, at={(31.3pt,35.7pt)}, width=623.2pt, height=125pt, ymax=125,
  xmin=0, xmax=50000, xtick={0,25000,50000}, minor xtick={12500,37500},
  tick label style={font=\fs{11}}, xticklabel shift=1pt]
\addplot[magline] coordinates {(0,57.3) (9900,57.3) (10060,124) (10400,118) (10960,97.3) (11200,96.8) (50000,97)};
\addplot[magline] coordinates {(0,52.3) (9900,52.3) (10060,124) (10400,118) (10900,93) (11200,92.5) (50000,92.7)};
\addplot[magline] coordinates {(0,48) (9900,48) (10060,124) (10400,118) (10850,88.7) (11200,88.3) (50000,88.5)};
\addplot[magline] table[x=t,y=y] \tabHm;
\pgfplotsinvokeforeach{j1,j2,j3,j4,j5,j6,j7,j8}{\addplot[blk] table[x=t,y=#1] \tabH;}
\addplot[star] coordinates {(31540,8) (32870,8) (34200,8) (35810,8) (36930,8) (38370,8) (39690,8) (40950,8) (42310,8) (43650,8) (44830,8) (46270,8) (47590,8) (48780,8)};
\end{axis}

% ================= panel letters and annotations =================
\node[font=\fs{24}] at (30,1098) {(a)};
\node[font=\fs{24}] at (365,1098) {(b)};
\node[font=\fs{24}] at (31.7,794.7) {(c)};
\node[font=\fs{24}] at (378.3,796.3) {(d)};
\node[font=\fs{24}] at (30,568) {(e)};
\node[font=\fs{24}] at (380,569.7) {(f)};
\node[font=\fs{24}] at (29.1,354.7) {(g)};
\node[font=\fs{24}] at (31.3,161.3) {(h)};

\node[font=\fs{22}, rotate=90] at (28.3,973) {1/G\textsubscript{K,H}};
\node[font=\fs{22}] at (196.7,828) {1/G\textsubscript{K,L}};
\node[font=\fs{22}, rotate=90] at (359,973) {α(τ\textsubscript{x})};
\node[font=\fs{22}] at (526.7,828) {1/G\textsubscript{K,L}};

% (c)
\node[font=\fs{24}] at (80,778) {(I)};
\fill[cGrn] (100,769) rectangle (142.7,785.7);
\node[font=\fs{17}] at (103.3,743) {1/G\textsubscript{K,H}=50};
\pulse{50}{714.7}
\node[font=\fs{15.5}] at (140,606.3) {t (ms)};
% (d)
\node[font=\fs{24}] at (521.7,786.3) {(II)};
\fill[cYel] (549.3,780.7) rectangle (591,798);
\node[font=\fs{17}] at (415,743) {1/G\textsubscript{K,H}=15};
\pulse{378.3}{714}
\node[font=\fs{15.5}] at (526.7,606.3) {t (ms)};
% (e)
\node[font=\fs{24}] at (185,568) {(III)};
\fill[cRed] (214.3,560.3) rectangle (256.7,578);
\node[font=\fs{17}] at (90,521.3) {1/G\textsubscript{K,H}=9};
\pulse{48.3}{494}
\node[font=\fs{15.5}] at (198.3,384.7) {t};
% (f)
\node[font=\fs{24}] at (440,551.3) {(IV)};
\fill[cGry] (463.3,543.7) rectangle (505.7,561.3);
\node[font=\fs{17}] at (461.7,518) {1/G\textsubscript{K,H}=6};
\pulse{373.3}{496.3}
\node[font=\fs{15.5}] at (520,384.7) {t (ms)};
% (g)
\node[font=\fs{14}, text=mag] at (183.6,341.3) {S-excitation};
\node[font=\fs{15}] at (461.1,341.3) {F-chaos};
\draw[black, line width=4pt, rounded corners=1.5pt] (69,309) rectangle (88,328);
\pulse{18}{296}
\draw[cPert, line width=1pt, -{Stealth[length=3pt]}] (273.1,239.5) -- (273.1,249.5);
\node[font=\fs{14}, text=cPert, anchor=west] at (276,243) {perturb};
\node[font=\fs{19}] at (347,210) {t(ms)};
% (h)
\node[font=\fs{14}, text=cFst] at (273.1,141.3) {F'-stable};
\node[font=\fs{15}, text=cPert, anchor=east] at (409.5,143) {perturb};
\draw[cPert, line width=1pt, -{Stealth[length=3pt]}] (411.9,148) -- (411.9,134);
\node[font=\fs{14}, text=cStar] at (544,143) {oscillatory excitation};
\draw[black, line width=3.8pt] (76.1,116.3) circle[radius=6.8];
\pulse{15.7}{94.7}
\node[font=\fs{19}] at (344.7,10) {t(ms)};

\pgfresetboundingbox
\path[use as bounding box] (0,0) rectangle (702,1113);
\end{tikzpicture}
\end{document}
